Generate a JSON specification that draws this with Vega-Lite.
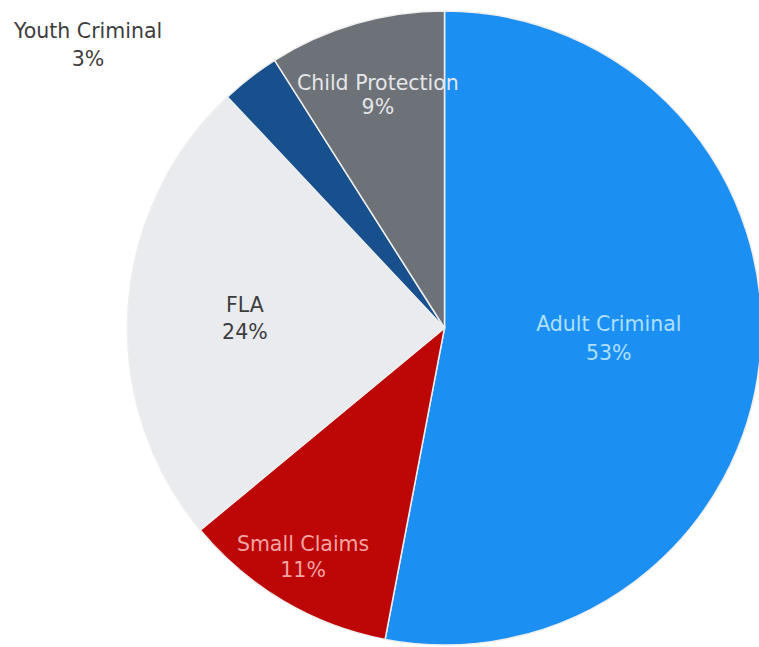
{
  "$schema": "https://vega.github.io/schema/vega-lite/v6.json",
  "width": 629,
  "height": 638,
  "autosize": {"type": "none"},
  "padding": {"left": 130, "top": 9, "right": 0, "bottom": 0},
  "background": "white",
  "data": {
    "values": [
      {"rank": 1, "name": "Adult Criminal", "value": 53, "label": "Adult Criminal\n53%"},
      {"rank": 2, "name": "Small Claims", "value": 11, "label": "Small Claims\n11%"},
      {"rank": 3, "name": "FLA", "value": 24, "label": "FLA\n24%"},
      {"rank": 4, "name": "Youth Criminal", "value": 3, "label": "Youth Criminal\n3%"},
      {"rank": 5, "name": "Child Protection", "value": 9, "label": "Child Protection\n9%"}
    ]
  },
  "encoding": {
    "theta": {"field": "value", "type": "quantitative", "stack": true},
    "order": {"field": "rank", "type": "quantitative"}
  },
  "layer": [
    {
      "mark": {"type": "arc", "outerRadius": 317, "stroke": "#eeeeee", "strokeWidth": 1.5},
      "encoding": {
        "color": {
          "field": "name",
          "type": "nominal",
          "scale": {
            "domain": ["Adult Criminal", "Small Claims", "FLA", "Youth Criminal", "Child Protection"],
            "range": ["#1c8ff2", "#bd0606", "#e9ebef", "#17508c", "#6d7278"]
          },
          "legend": null
        }
      }
    },
    {
      "mark": {"type": "text", "radius": 165, "dy": -19, "fontSize": 20.5, "font": "DejaVu Sans", "lineBreak": "\n", "lineHeight": 29, "align": "center", "baseline": "middle", "fill": "#aee0ff"},
      "encoding": {
        "text": {"field": "label"},
        "opacity": {"condition": {"test": "datum.name === 'Adult Criminal'", "value": 1}, "value": 0}
      }
    },
    {
      "mark": {"type": "text", "radius": 268, "dy": -14, "dx": -5, "fontSize": 20.5, "font": "DejaVu Sans", "lineBreak": "\n", "lineHeight": 26, "align": "center", "baseline": "middle", "fill": "#f4a3a3"},
      "encoding": {
        "text": {"field": "label"},
        "opacity": {"condition": {"test": "datum.name === 'Small Claims'", "value": 1}, "value": 0}
      }
    },
    {
      "mark": {"type": "text", "radius": 200, "dy": -9, "fontSize": 20.5, "font": "DejaVu Sans", "lineBreak": "\n", "lineHeight": 27, "align": "center", "baseline": "middle", "fill": "#3d3d3d"},
      "encoding": {
        "text": {"field": "label"},
        "opacity": {"condition": {"test": "datum.name === 'FLA'", "value": 1}, "value": 0}
      }
    },
    {
      "mark": {"type": "text", "radius": 358, "dx": -137, "dy": -13, "fontSize": 20.5, "font": "DejaVu Sans", "lineBreak": "\n", "lineHeight": 28, "align": "center", "baseline": "middle", "fill": "#3d3d3d"},
      "encoding": {
        "text": {"field": "label"},
        "opacity": {"condition": {"test": "datum.name === 'Youth Criminal'", "value": 1}, "value": 0}
      }
    },
    {
      "mark": {"type": "text", "radius": 246, "dx": 2, "dy": -8, "fontSize": 20.5, "font": "DejaVu Sans", "lineBreak": "\n", "lineHeight": 24, "align": "center", "baseline": "middle", "fill": "#e4e6ea"},
      "encoding": {
        "text": {"field": "label"},
        "opacity": {"condition": {"test": "datum.name === 'Child Protection'", "value": 1}, "value": 0}
      }
    }
  ],
  "config": {"view": {"stroke": null}}
}
